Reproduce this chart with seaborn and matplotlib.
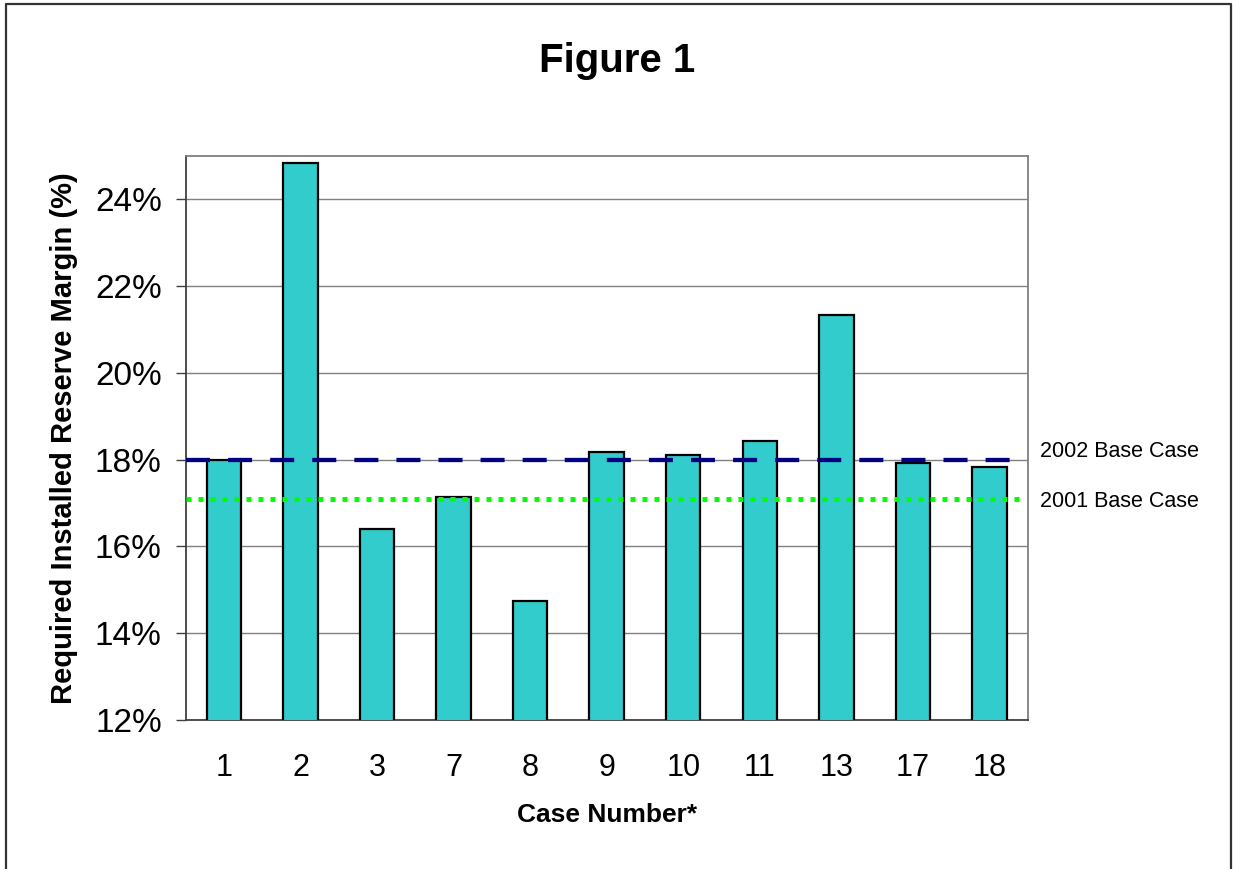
import matplotlib
matplotlib.use("Agg")
import matplotlib.pyplot as plt
from matplotlib.lines import Line2D
import matplotlib.transforms as mtransforms
import numpy as np
import pandas as pd
import seaborn as sns

# Reserve margin by case
cases = ["1", "2", "3", "7", "8", "9", "10", "11", "13", "17", "18"]
reserve_margin = [18.0, 24.83, 16.39, 17.13, 14.73, 18.18, 18.1, 18.42, 21.33, 17.92, 17.82]

# Reference levels
base_2002 = 18.0
base_2001 = 17.1
ref_labels = ["2002 Base Case", "2001 Base Case"]

y_ticks = [12, 14, 16, 18, 20, 22, 24]
y_limits = (12, 25)

sns.set_style("white")
plt.rcParams["font.family"] = ["Liberation Sans", "DejaVu Sans"]
plt.rcParams["lines.scale_dashes"] = False
plt.rcParams["text.color"] = "black"
plt.rcParams["axes.labelcolor"] = "black"
plt.rcParams["xtick.color"] = "black"
plt.rcParams["ytick.color"] = "black"

df = pd.DataFrame({"case": cases, "margin": reserve_margin})

W, H = 1233, 869
fig = plt.figure(figsize=(W / 100, H / 100), dpi=100)
ax = fig.add_axes([185.7 / W, 1 - 720 / H, (1027.7 - 185.7) / W, (720 - 155.7) / H])

sns.barplot(data=df, x="case", y="margin", order=cases, color="#33CCCC",
            saturation=1, width=0.45, edgecolor="black", linewidth=1.6,
            ax=ax, zorder=3)

ax.set_ylim(*y_limits)
ax.set_xlim(-0.5, len(cases) - 0.5)
ax.set_yticks(y_ticks)
ax.set_yticklabels([f"{v}%" for v in y_ticks], fontsize=24)
ax.yaxis.grid(True, color="#808080", linewidth=1.0, zorder=0)
ax.set_axisbelow(True)

# Category labels at centres, tick marks at the category boundaries
ax.set_xticks(np.arange(len(cases)))
ax.set_xticklabels(cases, fontsize=22)
ax.set_xticks(np.arange(len(cases) + 1) - 0.5, minor=True)
ax.tick_params(axis="x", which="major", length=0, pad=24, labelcolor="black")
ax.tick_params(axis="x", which="minor", length=7.2, width=1.0, color="#404040",
               direction="out")
ax.tick_params(axis="y", which="major", length=7.2, width=1.0, color="#404040",
               direction="out", pad=10, left=True, labelcolor="black")

for side in ("left", "bottom"):
    ax.spines[side].set_color("#404040")
    ax.spines[side].set_linewidth(1.3)
for side in ("top", "right"):
    ax.spines[side].set_visible(True)
    ax.spines[side].set_color("#808080")
    ax.spines[side].set_linewidth(1.3)

# Base case reference lines
x_span = [-0.5, 10.4]
ax.plot(x_span, [base_2002, base_2002], color="#000080", linewidth=3.1,
        dashes=(17.3, 13.0), dash_capstyle="butt", zorder=4)
ax.plot(x_span, [base_2001, base_2001], color="#00FF00", linewidth=3.6,
        dashes=(3.6, 5.04), dash_capstyle="butt", zorder=4)

trans = mtransforms.blended_transform_factory(fig.transFigure, ax.transData)
ax.annotate(ref_labels[0], xy=(1040 / W, base_2002), xycoords=trans,
            xytext=(0, 1.5), textcoords="offset points", fontsize=15.5,
            ha="left", va="baseline", annotation_clip=False)
ax.annotate(ref_labels[1], xy=(1040 / W, base_2001), xycoords=trans,
            xytext=(0, -6), textcoords="offset points", fontsize=15.5,
            ha="left", va="baseline", annotation_clip=False)

ax.set_xlabel("Case Number*", fontsize=19, fontweight="bold", labelpad=14)
ax.set_ylabel("Required Installed Reserve Margin (%)", fontsize=21,
              fontweight="bold", labelpad=12)

fig.text(617 / W, 1 - 71.7 / H, "Figure 1", fontsize=29, fontweight="bold",
         ha="center", va="baseline")

# Outer frame around the chart
fig.add_artist(Line2D([5.5 / W, 5.5 / W, 1231 / W, 1231 / W],
                      [0, 1 - 4 / H, 1 - 4 / H, 0],
                      transform=fig.transFigure, color="#333333", linewidth=1.6))

fig.savefig("out.png", dpi=100, facecolor="white")
